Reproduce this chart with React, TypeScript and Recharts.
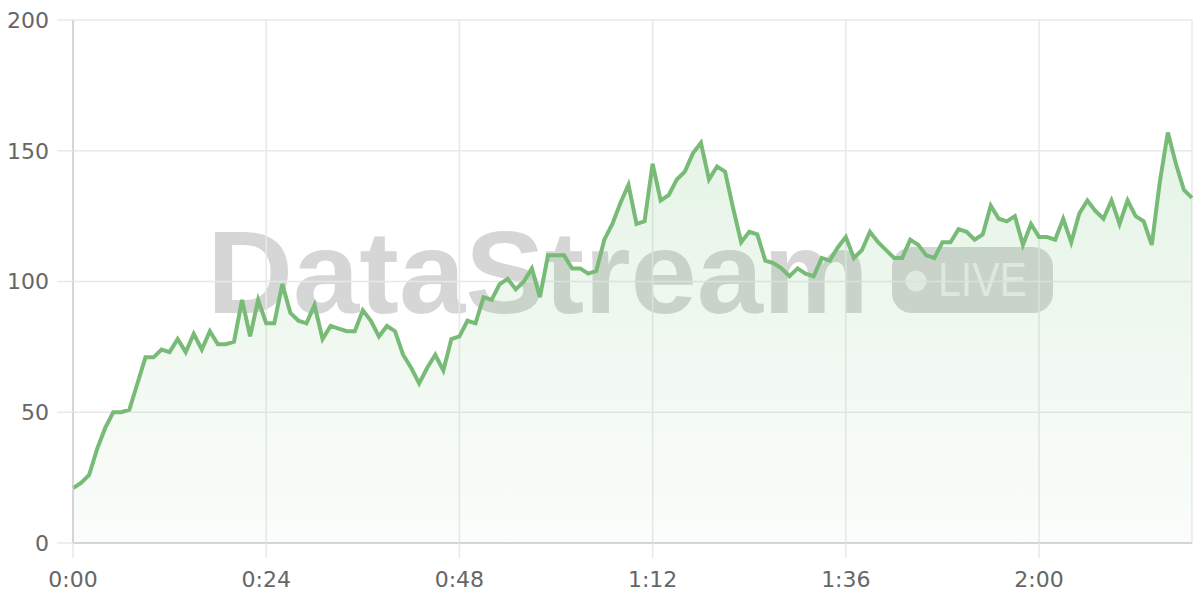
import React from "react";
import { AreaChart, Area, XAxis, YAxis, CartesianGrid } from "recharts";

// one sample per second, starting at 0:00
const values = [
  21, 23, 26, 36, 44, 50, 50, 51, 61, 71,
  71, 74, 73, 78, 73, 80, 74, 81, 76, 76,
  77, 93, 79, 93, 84, 84, 99, 88, 85, 84,
  91, 78, 83, 82, 81, 81, 89, 85, 79, 83,
  81, 72, 67, 61, 67, 72, 66, 78, 79, 85,
  84, 94, 93, 99, 101, 97, 100, 105, 94, 110,
  110, 110, 105, 105, 103, 104, 116, 122, 130, 137,
  122, 123, 145, 131, 133, 139, 142, 149, 153, 139,
  144, 142, 128, 115, 119, 118, 108, 107, 105, 102,
  105, 103, 102, 109, 108, 113, 117, 109, 112, 119,
  115, 112, 109, 109, 116, 114, 110, 109, 115, 115,
  120, 119, 116, 118, 129, 124, 123, 125, 114, 122,
  117, 117, 116, 124, 115, 126, 131, 127, 124, 131,
  122, 131, 125, 123, 114, 138, 157, 145, 135, 132,
];

const xTicks = [0, 24, 48, 72, 96, 120];
const yTicks = [0, 50, 100, 150, 200];

const data = values.map((v, i) => ({ t: i, value: v }));

const fmtTime = (s: number) => {
  const m = Math.floor(s / 60);
  const sec = s % 60;
  return `${m}:${sec < 10 ? "0" + sec : sec}`;
};

const tickStyle = { fill: "#666", fontSize: 22, fontFamily: "DejaVu Sans" };

const App = () => {
  return (
    <div style={{ position: "absolute", left: 0, top: 0, width: 1200, height: 600, background: "#fff" }}>
      {/* watermark sits behind the chart */}
      <svg width={1200} height={600} style={{ position: "absolute", left: 0, top: 0 }}>
        <text
          x={207}
          y={313}
          fontFamily="Liberation Sans"
          fontWeight="bold"
          fontSize={116}
          textLength={662}
          lengthAdjust="spacingAndGlyphs"
          fill="rgba(120,120,120,0.3)"
        >
          DataStream
        </text>
        <rect x={892} y={247} width={161} height={66} rx={20} fill="rgba(120,120,120,0.3)" />
        <circle cx={916} cy={281} r={10.5} fill="rgba(255,255,255,0.6)" />
        <text
          x={938}
          y={296}
          fontFamily="Liberation Sans"
          fontSize={48}
          textLength={89}
          lengthAdjust="spacingAndGlyphs"
          fill="rgba(255,255,255,0.6)"
        >
          LIVE
        </text>
      </svg>
      <div style={{ position: "absolute", left: 0, top: 0 }}>
        <AreaChart width={1200} height={600} data={data} margin={{ top: 20, right: 8, left: 0, bottom: 0 }}>
          <defs>
            <linearGradient id="greenFill" x1="0" y1="0" x2="0" y2="1">
              <stop offset="0%" stopColor="#66bb6a" stopOpacity={0.28} />
              <stop offset="100%" stopColor="#66bb6a" stopOpacity={0.05} />
            </linearGradient>
          </defs>
          <CartesianGrid stroke="#e8e8e8" strokeWidth={1.5} />
          <XAxis
            dataKey="t"
            type="number"
            domain={[0, 139]}
            ticks={xTicks}
            tickFormatter={fmtTime}
            height={57}
            tick={tickStyle}
            tickSize={15}
            tickMargin={13}
            tickLine={{ stroke: "#e8e8e8", strokeWidth: 1.5 }}
            axisLine={{ stroke: "#ccc", strokeWidth: 1.5 }}
          />
          <YAxis
            domain={[0, 200]}
            ticks={yTicks}
            width={73}
            tick={tickStyle}
            tickSize={16}
            tickMargin={8}
            tickLine={{ stroke: "#e8e8e8", strokeWidth: 1.5 }}
            axisLine={{ stroke: "#ccc", strokeWidth: 1.5 }}
          />
          <Area
            type="linear"
            dataKey="value"
            stroke="#77bb77"
            strokeWidth={4}
            fill="url(#greenFill)"
            isAnimationActive={false}
            dot={false}
            activeDot={false}
          />
        </AreaChart>
      </div>
    </div>
  );
};

export default App;
